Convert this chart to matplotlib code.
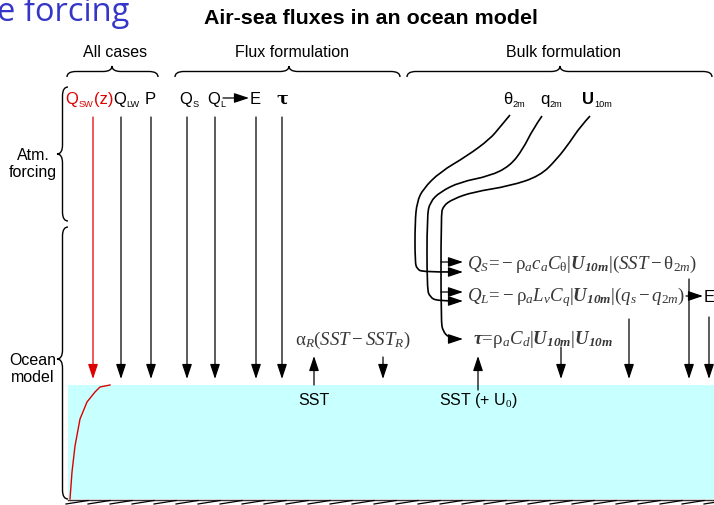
import numpy as np
import matplotlib.pyplot as plt
from matplotlib.path import Path
from matplotlib.patches import PathPatch, Rectangle

plt.rcParams['mathtext.fontset'] = 'custom'
plt.rcParams['mathtext.rm'] = 'Liberation Serif'
plt.rcParams['mathtext.it'] = 'Liberation Serif:italic'
plt.rcParams['mathtext.bf'] = 'Liberation Serif:italic:bold'

SANS = 'Liberation Sans'
FS = 11.5
EQ_FS = 13.6
EQ_COLOR = '#383838'
RED = '#dd0000'
WATER = '#c8ffff'

# ------------------------------------------------------------------
# Contenido del diagrama (coordenadas en pixeles, y hacia abajo)
group_names = ['All cases', 'Flux formulation', 'Bulk formulation']
group_span = [(67, 158, 112), (175, 400, 289), (407, 712, 560)]

side_names = ['Atm.\nforcing', 'Ocean\nmodel']
side_span = [(88, 222, 155), (228, 500, 360)]

# flechas de forzamiento que bajan desde la fila de etiquetas
forcing_x = [93, 121, 151, 187, 215, 256, 282]
forcing_col = [RED, 'k', 'k', 'k', 'k', 'k', 'k']

# otras flechas hacia el océano (x, y inicio, y punta)
down_arrows = [(383, 358, 380), (561, 348, 380), (629, 320, 380),
               (689, 280, 380), (709, 318, 380)]
up_arrows = [(314, 386, 357), (478, 391, 357)]
up_labels = ['SST', 'SST (+ U$_0$)']

# perfil de Q_SW(z) dentro del océano
prof_x = [110, 100, 95, 87, 80, 75, 72, 70]
prof_y = [386, 388, 393, 403, 420, 447, 473, 500]

# líneas de las variables atmosféricas hacia las fórmulas bulk
theta_line = [(510, 116), (500, 128), (490, 140), (467, 157), (440, 173),
              (423, 190), (417, 203), (415, 223), (415, 263), (417, 270),
              (423, 273), (452, 273)]
q_line = [(542, 117), (533, 130), (523, 150), (510, 167), (490, 177),
          (460, 183), (440, 193), (430, 203), (427, 217), (427, 290),
          (430, 298), (437, 302), (458, 302)]
u_line = [(590, 117), (580, 128), (570, 143), (557, 160), (540, 177),
          (510, 187), (473, 193), (453, 200), (443, 207), (441, 217),
          (441, 323), (443, 332), (448, 338), (454, 340)]
u_branch_y = [263, 293]

eq_qs = (r'$Q_S\!=\!-\mathrm{\rho}_a c_a C_\mathrm{\theta}|\mathbf{U_{10m}}|'
         r'(SST-\mathrm{\theta}_{2m})$')
eq_ql = r'$Q_L\!=\!-\mathrm{\rho}_a L_v C_q|\mathbf{U_{10m}}|(q_s-q_{2m})$'
eq_tau = r'$\mathbf{\tau}\!=\!\mathrm{\rho}_a C_d|\mathbf{U_{10m}}|\mathbf{U_{10m}}$'
eq_relax = r'$\mathrm{\alpha}_R(SST-SST_R)$'


# ------------------------------------------------------------------
fig = plt.figure(figsize=(7.14, 5.06), dpi=100, facecolor='white')
ax = fig.add_axes([0, 0, 1, 1])
ax.set_xlim(0, 714)
ax.set_ylim(506, 0)
ax.axis('off')


def arrow(x0, y0, x1, y1, color='k', lw=0.9):
    ax.annotate('', xy=(x1, y1), xytext=(x0, y0),
                arrowprops=dict(arrowstyle='-|>,head_length=0.9,head_width=0.3',
                                color=color, lw=lw, shrinkA=0, shrinkB=0,
                                mutation_scale=10))


def smooth(pts):
    pts = np.asarray(pts, float)
    verts = [pts[0]]
    codes = [Path.MOVETO]
    for i in range(1, len(pts) - 1):
        end = pts[-1] if i == len(pts) - 2 else (pts[i] + pts[i + 1]) / 2
        verts += [pts[i], end]
        codes += [Path.CURVE3, Path.CURVE3]
    return Path(verts, codes)


def hbrace(x0, x1, xm, y_end, y_tip, r=9):
    ym = (y_end + y_tip) / 2
    v = [(x0, y_end), (x0, ym), (x0 + r, ym), (xm - r, ym), (xm, ym), (xm, y_tip),
         (xm, ym), (xm + r, ym), (x1 - r, ym), (x1, ym), (x1, y_end)]
    c = [Path.MOVETO, Path.CURVE3, Path.CURVE3, Path.LINETO, Path.CURVE3, Path.CURVE3,
         Path.CURVE3, Path.CURVE3, Path.LINETO, Path.CURVE3, Path.CURVE3]
    ax.add_patch(PathPatch(Path(v, c), fc='none', ec='k', lw=1.0))


def vbrace(y0, y1, ym, x_end, x_tip, r=9):
    xm = (x_end + x_tip) / 2
    v = [(x_end, y0), (xm, y0), (xm, y0 + r), (xm, ym - r), (xm, ym), (x_tip, ym),
         (xm, ym), (xm, ym + r), (xm, y1 - r), (xm, y1), (x_end, y1)]
    c = [Path.MOVETO, Path.CURVE3, Path.CURVE3, Path.LINETO, Path.CURVE3, Path.CURVE3,
         Path.CURVE3, Path.CURVE3, Path.LINETO, Path.CURVE3, Path.CURVE3]
    ax.add_patch(PathPatch(Path(v, c), fc='none', ec='k', lw=1.0))


def sublabel(x, y, main, sub, tail='', color='k', weight='normal', size=12):
    t = ax.text(x, y, main, ha='left', va='center', color=color, fontsize=size,
                family=SANS, weight=weight)
    s = ax.annotate(sub, xy=(1, 0), xycoords=t, xytext=(0.3, -1.5),
                    textcoords='offset points', ha='left', va='bottom',
                    color=color, fontsize=size * 0.55, family=SANS)
    if tail:
        ax.annotate(tail, xy=(1, 0), xycoords=(s, t), xytext=(0.5, 0),
                    textcoords='offset points', ha='left', va='bottom',
                    color=color, fontsize=size, family=SANS)
    return t


# Títulos
ax.text(-3, 21, 'e forcing', fontsize=23.5, color='#3535c8', family='Open Sans',
        ha='left', va='baseline')
ax.text(371, 18, 'Air-sea fluxes in an ocean model', fontsize=15.4, weight='bold',
        family=SANS, ha='center', va='center')

# Llaves y nombres de grupos
for name, (x0, x1, xm) in zip(group_names, group_span):
    hbrace(x0, x1, xm, 78, 67)
    ax.text(xm + 3, 52, name, fontsize=FS, family=SANS, ha='center', va='center')

for name, (y0, y1, ym) in zip(side_names, side_span):
    vbrace(y0, y1, ym, 68, 57)
    ax.text(33, ym + 9, name, fontsize=FS, family=SANS, ha='center', va='center',
            linespacing=1.1)

# Océano
ax.add_patch(Rectangle((68, 386), 646, 114, fc=WATER, ec='none'))
ax.plot([68, 714], [500.5, 500.5], c='#333333', lw=1.0)
for xs in np.arange(66, 714, 22):
    ax.plot([xs, xs + 22], [505, 501.5], c='k', lw=0.9)
ax.plot(prof_x, prof_y, c=RED, lw=1.0)

# Fila de etiquetas de forzamiento
row_y = 99
sublabel(65, row_y, 'Q', 'SW', tail='(z)', color=RED)
sublabel(113, row_y, 'Q', 'LW')
ax.text(145, row_y, 'P', fontsize=12, family=SANS, ha='left', va='center')
sublabel(179, row_y, 'Q', 'S')
sublabel(207, row_y, 'Q', 'L')
arrow(223, row_y, 249, row_y)
ax.text(250, row_y, 'E', fontsize=12, family=SANS, ha='left', va='center')
ax.text(282, row_y, 'τ', fontsize=12.5, family='DejaVu Serif', weight='bold',
        ha='center', va='center')

sublabel(503, row_y, 'θ', '2m')
sublabel(540, row_y, 'q', '2m')
sublabel(582, row_y, 'U', '10m', weight='bold')

for xf, cf in zip(forcing_x, forcing_col):
    arrow(xf, 118, xf, 380, color=cf)

for xa, y0, y1 in down_arrows:
    arrow(xa, y0, xa, y1)
for (xa, y0, y1), lab in zip(up_arrows, up_labels):
    arrow(xa, y0, xa, y1)
    ax.text(xa, 401, lab, fontsize=FS, family=SANS, ha='center', va='center')

# Formulación bulk
for line in [theta_line, q_line, u_line]:
    ax.add_patch(PathPatch(smooth(line), fc='none', ec='k', lw=1.2))
for line in [theta_line, q_line, u_line]:
    xe, ye = line[-1]
    arrow(xe - 2, ye, 463, ye)
for yb in u_branch_y:
    arrow(441, yb, 463, yb)

ax.text(467, 264, eq_qs, fontsize=EQ_FS, color=EQ_COLOR, ha='left', va='center')
ax.text(467, 297, eq_ql, fontsize=EQ_FS, color=EQ_COLOR, ha='left', va='center')
ax.text(473, 340, eq_tau, fontsize=EQ_FS, color=EQ_COLOR, ha='left', va='center')
ax.text(295, 340, eq_relax, fontsize=EQ_FS, color=EQ_COLOR, ha='left', va='center')
arrow(686, 297, 703, 297)
ax.text(704, 297, 'E', fontsize=12, family=SANS, ha='left', va='center')

fig.savefig('out.png', dpi=100, facecolor='white')
